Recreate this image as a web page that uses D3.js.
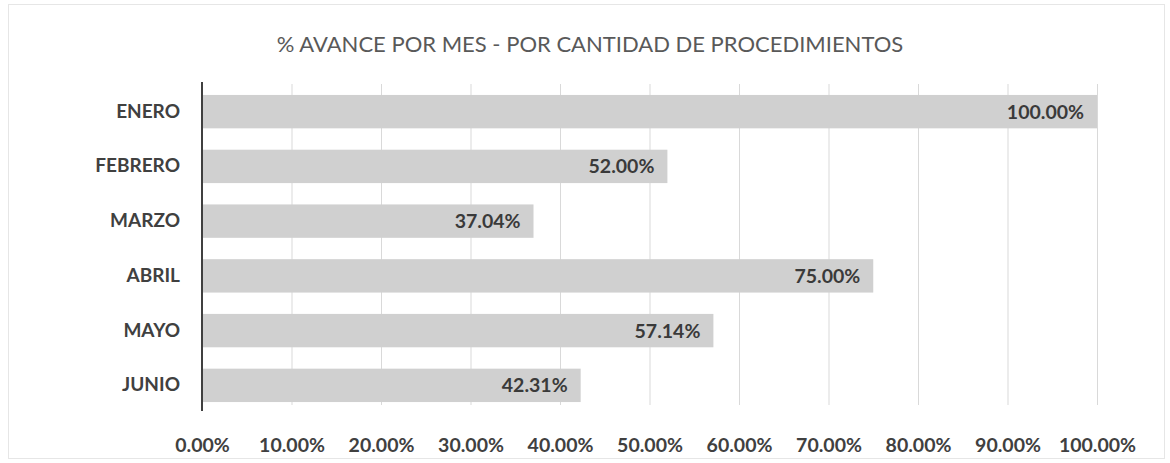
<!DOCTYPE html>
<html>
<head>
<meta charset="utf-8">
<script src="https://cdn.jsdelivr.net/npm/d3@7"></script>
<style>
  html, body { margin: 0; padding: 0; background: #fff; }
  svg { display: block; font-family: Lato, "Open Sans", sans-serif; }
</style>
</head>
<body>
<div id="chart"></div>
<script>
// chart values
var months = ['ENERO', 'FEBRERO', 'MARZO', 'ABRIL', 'MAYO', 'JUNIO'];
var progress = [100.00, 52.00, 37.04, 75.00, 57.14, 42.31];
var tickValues = [0, 10, 20, 30, 40, 50, 60, 70, 80, 90, 100];
var chartTitle = '% AVANCE POR MES - POR CANTIDAD DE PROCEDIMIENTOS';

var W = 1170, H = 463;
var margin = { top: 84, right: 73, bottom: 50, left: 202 };

var svg = d3.select('#chart').append('svg')
    .attr('width', W)
    .attr('height', H);

// faint outer frame of the scanned chart
svg.append('rect')
    .attr('x', 8.5).attr('y', 4.5)
    .attr('width', W - 14).attr('height', H - 9)
    .attr('fill', 'none')
    .attr('stroke', '#e6e6e6');

var x = d3.scaleLinear()
    .domain([0, 100])
    .range([margin.left, W - margin.right]);

var y = d3.scaleBand()
    .domain(months)
    .range([margin.top, H - margin.bottom])
    .paddingInner(0.39)
    .paddingOuter(0.2);

// vertical gridlines
svg.append('g')
    .selectAll('line')
    .data(tickValues.slice(1))
    .join('line')
    .attr('x1', function(d) { return x(d) + 0.5; })
    .attr('x2', function(d) { return x(d) + 0.5; })
    .attr('y1', margin.top)
    .attr('y2', H - margin.bottom - 8)
    .attr('stroke', '#d9d9d9')
    .attr('stroke-width', 1);

// bars
svg.append('g')
    .selectAll('rect')
    .data(progress)
    .join('rect')
    .attr('x', x(0))
    .attr('y', function(d, i) { return y(months[i]); })
    .attr('width', function(d) { return x(d) - x(0); })
    .attr('height', y.bandwidth())
    .attr('fill', '#d0d0d0');

// value labels, inside the bar end
svg.append('g')
    .selectAll('text')
    .data(progress)
    .join('text')
    .attr('x', function(d) { return x(d) - 13; })
    .attr('y', function(d, i) { return y(months[i]) + y.bandwidth() / 2; })
    .attr('dy', '0.36em')
    .attr('text-anchor', 'end')
    .attr('font-size', 19.5)
    .attr('font-weight', 'bold')
    .attr('fill', '#3a3a3a')
    .text(function(d) { return d.toFixed(2) + '%'; });

// category axis
var yAxis = svg.append('g')
    .attr('transform', 'translate(' + margin.left + ',0)')
    .call(d3.axisLeft(y).tickSize(0).tickPadding(22));
yAxis.select('.domain')
    .attr('stroke', '#404040')
    .attr('stroke-width', 2)
    .attr('d', 'M0,' + (margin.top - 2) + 'V' + (H - margin.bottom - 2));
yAxis.selectAll('text')
    .attr('font-family', 'Lato, "Open Sans", sans-serif')
    .attr('font-size', 19)
    .attr('font-weight', 'bold')
    .attr('fill', '#404040');

// value axis
var xAxis = svg.append('g')
    .attr('transform', 'translate(0,' + (H - margin.bottom) + ')')
    .call(d3.axisBottom(x)
        .tickValues(tickValues)
        .tickSize(0)
        .tickPadding(25)
        .tickFormat(function(d) { return d.toFixed(2) + '%'; }));
xAxis.select('.domain').remove();
xAxis.selectAll('text')
    .attr('font-family', 'Lato, "Open Sans", sans-serif')
    .attr('font-size', 19.5)
    .attr('font-weight', 'bold')
    .attr('fill', '#404040');

// title
svg.append('text')
    .attr('x', 590)
    .attr('y', 52)
    .attr('text-anchor', 'middle')
    .attr('font-size', 22)
    .attr('fill', '#595959')
    .text(chartTitle);
</script>
</body>
</html>
